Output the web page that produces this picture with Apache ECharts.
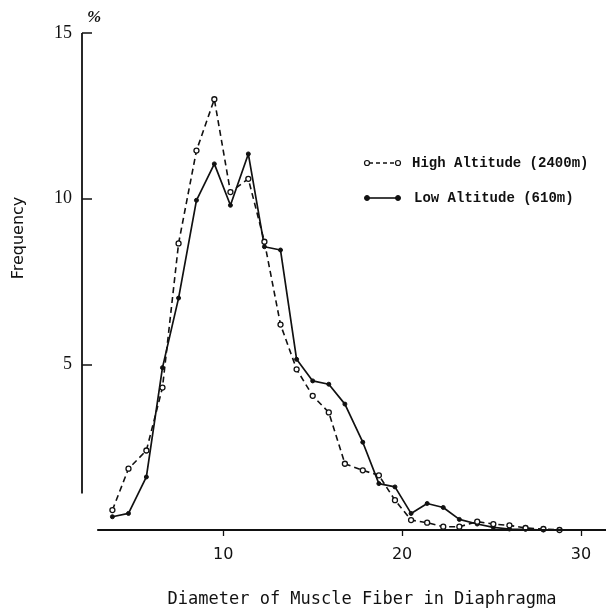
<!DOCTYPE html>
<html>
<head>
<meta charset="utf-8">
<script src="https://cdn.jsdelivr.net/npm/echarts@6/dist/echarts.min.js"></script>
<style>
html,body{margin:0;padding:0;background:#fff;}
#chart{width:606px;height:612px;}
</style>
</head>
<body>
<div id="chart"></div>
<script>
// Diameter (x) positions of the frequency points
var diameters = [3.8, 4.7, 5.7, 6.6, 7.5, 8.5, 9.5, 10.4, 11.4, 12.3, 13.2, 14.1, 15.0, 15.9, 16.8, 17.8, 18.7, 19.6, 20.5, 21.4, 22.3, 23.2, 24.2, 25.1, 26.0, 26.9, 27.9, 28.8];
// High Altitude (2400m), frequency %
var highAltitude = [0.6, 1.85, 2.4, 4.3, 8.65, 11.45, 13.0, 10.2, 10.6, 8.7, 6.2, 4.85, 4.05, 3.55, 2.0, 1.8, 1.65, 0.9, 0.3, 0.22, 0.1, 0.1, 0.25, 0.18, 0.14, 0.06, 0.03, 0.0];
// Low Altitude (610m), frequency %
var lowAltitude = [0.4, 0.5, 1.6, 4.9, 7.0, 9.95, 11.05, 9.8, 11.35, 8.55, 8.45, 5.15, 4.5, 4.4, 3.8, 2.65, 1.4, 1.3, 0.5, 0.8, 0.68, 0.32, 0.18, 0.08, 0.03, 0.02, 0.0, null];
var seriesNames = ['High Altitude (2400m)', 'Low Altitude (610m)'];
var xTickValues = [10, 20, 30];
var yTickValues = [5, 10, 15];
var xRange = [2.1, 31.4];
var yRange = [0, 15];
var xAxisLineStart = 2.95;
var yAxisLineStart = 1.1;

function pairs(xs, ys) {
  var out = [];
  for (var i = 0; i < xs.length; i++) {
    if (ys[i] !== null && ys[i] !== undefined) out.push([xs[i], ys[i]]);
  }
  return out;
}

var chart = echarts.init(document.getElementById('chart'), null, {renderer: 'canvas'});
var option = {
  backgroundColor: '#ffffff',
  animation: false,
  grid: {left: 82, right: 0, top: 33, bottom: 82, containLabel: false},
  xAxis: {
    type: 'value',
    min: xRange[0],
    max: xRange[1],
    axisLine: {show: false},
    splitLine: {show: false},
    axisTick: {show: true, inside: false, length: 6, customValues: xTickValues, lineStyle: {color: '#111', width: 1.3}},
    axisLabel: {show: true, customValues: xTickValues, margin: 17, color: '#111', fontSize: 16, fontFamily: 'DejaVu Sans'}
  },
  yAxis: {
    type: 'value',
    min: yRange[0],
    max: yRange[1],
    axisLine: {show: false},
    splitLine: {show: false},
    axisTick: {show: true, inside: true, length: 10, customValues: yTickValues, lineStyle: {color: '#111', width: 1.5}},
    axisLabel: {show: true, customValues: yTickValues, margin: 10, color: '#111', fontSize: 18, fontFamily: 'Liberation Serif'}
  },
  series: [
    {
      name: seriesNames[0],
      type: 'line',
      data: pairs(diameters, highAltitude),
      symbol: 'circle',
      symbolSize: 5,
      showSymbol: true,
      itemStyle: {color: '#ffffff', borderColor: '#111', borderWidth: 1.3},
      lineStyle: {color: '#111', width: 1.6, type: [6, 4]},
      z: 3,
      markLine: {
        silent: true,
        symbol: 'none',
        label: {show: false},
        lineStyle: {color: '#111', width: 1.8, type: 'solid'},
        data: [
          [{coord: [xAxisLineStart, 0]}, {coord: [xRange[1], 0]}],
          [{coord: [xRange[0], yAxisLineStart]}, {coord: [xRange[0], yRange[1]]}]
        ]
      }
    },
    {
      name: seriesNames[1],
      type: 'line',
      data: pairs(diameters, lowAltitude),
      symbol: 'circle',
      symbolSize: 4,
      showSymbol: true,
      itemStyle: {color: '#111', borderColor: '#111', borderWidth: 1},
      lineStyle: {color: '#111', width: 1.7, type: 'solid'},
      z: 2
    }
  ],
  graphic: [
    // y-axis unit
    {type: 'text', left: 87, top: 9, style: {text: '%', fontSize: 17, fontWeight: 'bold', fontStyle: 'italic', fontFamily: 'Liberation Serif', fill: '#111'}},
    // y-axis title
    {type: 'text', x: 19, y: 238, rotation: Math.PI / 2, style: {text: 'Frequency', fontSize: 16, fontFamily: 'DejaVu Sans', fill: '#111', align: 'center', verticalAlign: 'middle'}},
    // x-axis title
    {type: 'text', x: 362, y: 600, style: {text: 'Diameter of Muscle Fiber in Diaphragma', fontSize: 17, fontFamily: 'DejaVu Sans Mono', fill: '#111', align: 'center', verticalAlign: 'middle'}},
    // legend row 1
    {type: 'line', shape: {x1: 369, y1: 163, x2: 396, y2: 163}, style: {stroke: '#111', lineWidth: 1.4, lineDash: [4, 3]}},
    {type: 'circle', shape: {cx: 367, cy: 163, r: 2.5}, style: {fill: '#fff', stroke: '#111', lineWidth: 1.2}},
    {type: 'circle', shape: {cx: 398, cy: 163, r: 2.5}, style: {fill: '#fff', stroke: '#111', lineWidth: 1.2}},
    {type: 'text', x: 412, y: 163, style: {text: seriesNames[0], fontSize: 14, fontWeight: 'bold', fontFamily: 'Liberation Mono', fill: '#111', align: 'left', verticalAlign: 'middle'}},
    // legend row 2
    {type: 'line', shape: {x1: 367, y1: 198, x2: 398, y2: 198}, style: {stroke: '#111', lineWidth: 1.6}},
    {type: 'circle', shape: {cx: 367, cy: 198, r: 2.5}, style: {fill: '#111', stroke: '#111', lineWidth: 1}},
    {type: 'circle', shape: {cx: 398, cy: 198, r: 2.5}, style: {fill: '#111', stroke: '#111', lineWidth: 1}},
    {type: 'text', x: 414, y: 198, style: {text: seriesNames[1], fontSize: 14, fontWeight: 'bold', fontFamily: 'Liberation Mono', fill: '#111', align: 'left', verticalAlign: 'middle'}}
  ]
};
chart.setOption(option);
</script>
</body>
</html>
